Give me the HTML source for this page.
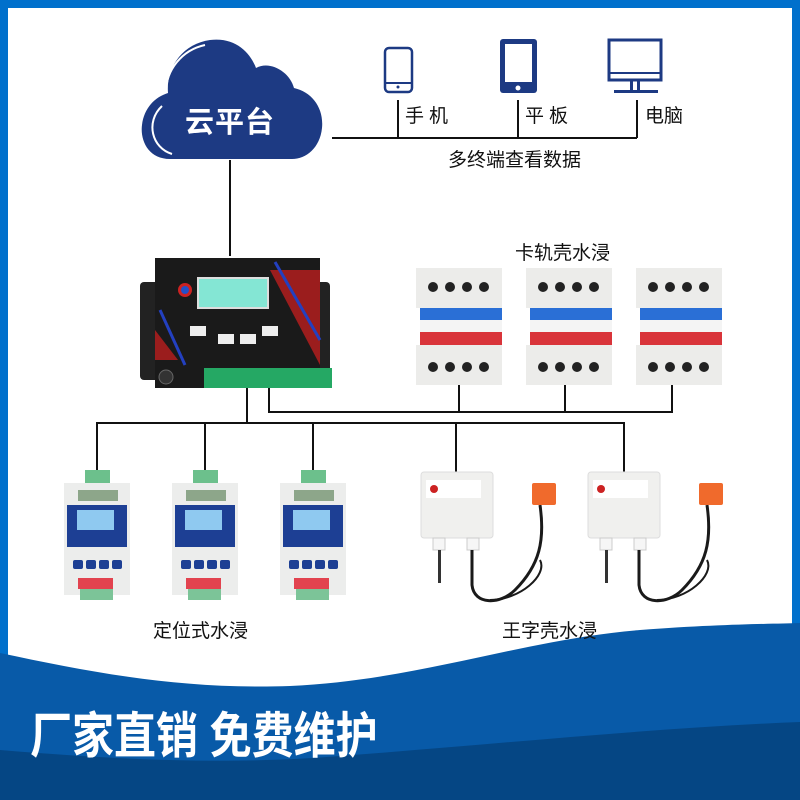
<!DOCTYPE html>
<html><head><meta charset="utf-8"><style>
*{margin:0;padding:0;box-sizing:border-box}
body{width:800px;height:800px;overflow:hidden;background:#fff;position:relative;font-family:"Liberation Sans","Noto Sans CJK SC",sans-serif}
.a{position:absolute}
.t{position:absolute;color:#111;white-space:nowrap}
</style></head><body>
<svg class="a" style="left:0;top:0" width="800" height="800" viewBox="0 0 800 800">
<rect x="0" y="0" width="800" height="800" fill="#0070cc"/>
<rect x="8" y="8" width="784" height="792" fill="#fff"/>
<path d="M0,653 C90,672 180,690 290,686 C420,680 520,640 640,630 C720,624 770,624 800,623 L800,800 L0,800Z" fill="#085aa8"/>
<path d="M0,750 C120,760 230,765 340,756 C500,744 650,728 800,722 L800,800 L0,800Z" fill="#054684"/>
<path d="M170,159 C148,159 140,140 142,125 C144,108 155,97 168,93 C166,68 182,44 210,40 C235,37 250,52 256,68 C270,60 290,72 294,88 C312,92 324,108 322,128 C320,148 306,159 292,159Z" fill="#1d3a83"/>
<path d="M172,154 C152,148 145,122 162,106 M166,92 C166,70 182,50 205,45" fill="none" stroke="#fff" stroke-width="2"/>
<g stroke="#111" stroke-width="2" fill="none">
<line x1="230" y1="160" x2="230" y2="256"/>
<polyline points="332,138 637,138"/>
<line x1="398" y1="100" x2="398" y2="138"/>
<line x1="518" y1="100" x2="518" y2="138"/>
<line x1="637" y1="100" x2="637" y2="138"/>
<line x1="247" y1="388" x2="247" y2="423"/>
<polyline points="269,388 269,412 672,412 672,385"/>
<line x1="459" y1="385" x2="459" y2="412"/>
<line x1="565" y1="385" x2="565" y2="412"/>
<polyline points="97,470 97,423 624,423 624,472"/>
<line x1="205" y1="423" x2="205" y2="470"/>
<line x1="313" y1="423" x2="313" y2="470"/>
<line x1="456" y1="423" x2="456" y2="472"/>
</g>
<rect x="385" y="48" width="27" height="44" rx="4" fill="none" stroke="#1d3a83" stroke-width="2.5"/>
<line x1="386" y1="83" x2="411" y2="83" stroke="#1d3a83" stroke-width="2"/>
<circle cx="398" cy="87" r="1.5" fill="#1d3a83"/>
<rect x="500" y="39" width="37" height="54" rx="3" fill="#1d3a83"/>
<rect x="505" y="44" width="27" height="38" fill="#fff"/>
<circle cx="518" cy="88" r="2.5" fill="#fff"/>
<rect x="609" y="40" width="52" height="40" fill="none" stroke="#1d3a83" stroke-width="3"/>
<line x1="609" y1="73" x2="661" y2="73" stroke="#1d3a83" stroke-width="2"/>
<rect x="630" y="80" width="3" height="10" fill="#1d3a83"/><rect x="637" y="80" width="3" height="10" fill="#1d3a83"/>
<rect x="614" y="90" width="44" height="3" fill="#1d3a83"/>
<rect x="140" y="282" width="190" height="98" rx="4" fill="#222"/>
<rect x="155" y="258" width="165" height="130" fill="#1a1a1a"/>
<path d="M270,270 L320,270 L320,365 Z" fill="#9b1d1d"/>
<path d="M155,330 L155,360 L178,360 Z" fill="#9b1d1d"/>
<line x1="160" y1="310" x2="185" y2="365" stroke="#2340c0" stroke-width="3"/>
<line x1="275" y1="262" x2="320" y2="340" stroke="#2340c0" stroke-width="3"/>
<rect x="198" y="278" width="70" height="30" fill="#84e6d4" stroke="#ddd" stroke-width="2"/>
<rect x="190" y="326" width="16" height="10" fill="#eee"/><rect x="218" y="334" width="16" height="10" fill="#eee"/><rect x="240" y="334" width="16" height="10" fill="#eee"/><rect x="262" y="326" width="16" height="10" fill="#eee"/>
<rect x="204" y="368" width="128" height="20" fill="#25a864"/>
<circle cx="166" cy="377" r="7" fill="#333" stroke="#666"/>
<circle cx="185" cy="290" r="7" fill="#c22"/><circle cx="185" cy="290" r="4" fill="#2450c8"/>
<g id="rail">
<rect x="420" y="270" width="78" height="115" fill="#e4e4e2"/>
<rect x="416" y="268" width="86" height="40" fill="#ececea"/>
<rect x="416" y="345" width="86" height="40" fill="#ececea"/>
<circle cx="433" cy="287" r="5" fill="#222"/><circle cx="450" cy="287" r="5" fill="#222"/><circle cx="467" cy="287" r="5" fill="#222"/><circle cx="484" cy="287" r="5" fill="#222"/>
<circle cx="433" cy="367" r="5" fill="#222"/><circle cx="450" cy="367" r="5" fill="#222"/><circle cx="467" cy="367" r="5" fill="#222"/><circle cx="484" cy="367" r="5" fill="#222"/>
<rect x="420" y="308" width="82" height="12" fill="#2a6fd6"/>
<rect x="420" y="320" width="82" height="12" fill="#f4f4f4"/>
<rect x="420" y="332" width="82" height="13" fill="#d9343a"/>
</g>
<use href="#rail" x="110"/><use href="#rail" x="220"/>
<g id="pos">
<rect x="85" y="470" width="25" height="13" fill="#6cc08c"/>
<rect x="64" y="483" width="66" height="112" fill="#ecedec"/>
<rect x="78" y="490" width="40" height="11" fill="#8da68a"/>
<rect x="67" y="505" width="60" height="42" fill="#1d3f94"/>
<rect x="77" y="510" width="37" height="20" fill="#8fc9f0"/>
<rect x="73" y="560" width="10" height="9" rx="2" fill="#1d3f94"/><rect x="86" y="560" width="10" height="9" rx="2" fill="#1d3f94"/><rect x="99" y="560" width="10" height="9" rx="2" fill="#1d3f94"/><rect x="112" y="560" width="10" height="9" rx="2" fill="#1d3f94"/>
<rect x="78" y="578" width="35" height="11" fill="#e2434f"/>
<rect x="80" y="589" width="33" height="11" fill="#7cc498"/>
</g>
<use href="#pos" x="108"/><use href="#pos" x="216"/>
<g id="wb">
<rect x="421" y="472" width="72" height="66" rx="3" fill="#f0f0ee" stroke="#ddd"/>
<rect x="426" y="480" width="55" height="18" fill="#fff"/>
<circle cx="434" cy="489" r="4" fill="#c22"/>
<rect x="433" y="538" width="12" height="12" fill="#f6f6f6" stroke="#ccc"/>
<rect x="467" y="538" width="12" height="12" fill="#f6f6f6" stroke="#ccc"/>
<rect x="438" y="550" width="3" height="33" fill="#333"/>
<path d="M472,550 L472,585 C474,605 500,605 515,590 C540,565 545,540 540,505" fill="none" stroke="#1a1a1a" stroke-width="3"/>
<path d="M490,600 C520,600 548,575 540,560" fill="none" stroke="#1a1a1a" stroke-width="2"/>
<rect x="532" y="483" width="24" height="22" rx="2" fill="#f06a2c"/>
</g>
<use href="#wb" x="167"/>
</svg>
<div class="t" style="left:185px;top:99px;font-size:29px;color:#fff;font-weight:bold;letter-spacing:1px">云平台</div>
<div class="t" style="left:405px;top:101px;font-size:19px;letter-spacing:5px">手机</div>
<div class="t" style="left:525px;top:101px;font-size:19px;letter-spacing:5px">平板</div>
<div class="t" style="left:645px;top:101px;font-size:19px">电脑</div>
<div class="t" style="left:448px;top:145px;font-size:19px">多终端查看数据</div>
<div class="t" style="left:515px;top:238px;font-size:19px">卡轨壳水浸</div>
<div class="t" style="left:153px;top:616px;font-size:19px">定位式水浸</div>
<div class="t" style="left:502px;top:616px;font-size:19px">王字壳水浸</div>
<div class="t" style="left:30px;top:702px;font-size:42px;color:#fff;font-weight:bold;transform:scaleY(1.18);transform-origin:0 50%">厂家直销 免费维护</div>
</body></html>
